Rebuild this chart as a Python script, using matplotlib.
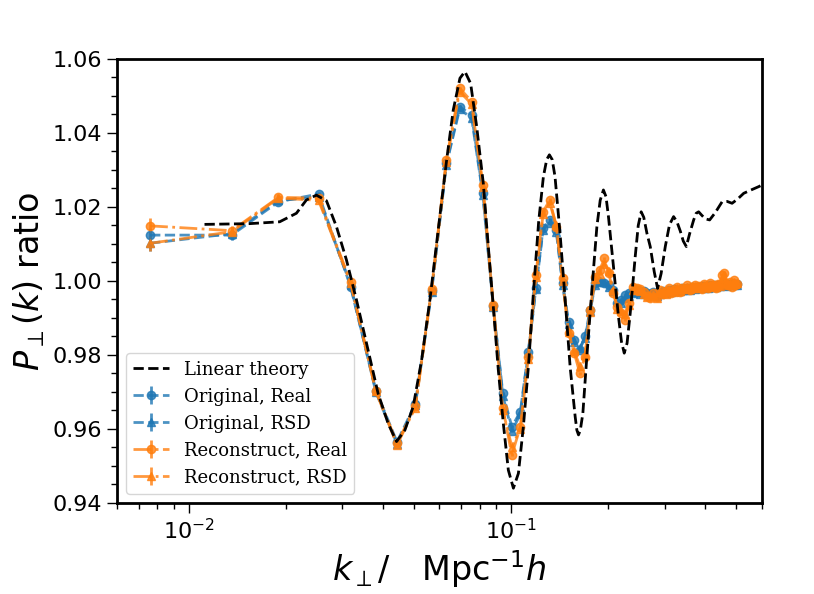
import matplotlib
matplotlib.use("Agg")
import matplotlib.pyplot as plt
from matplotlib.ticker import MultipleLocator

# ---- Linear theory curve ----
k_theory = [0.01121, 0.01547, 0.01917, 0.02160, 0.02320, 0.02492, 0.02677, 0.02875,
            0.03088, 0.03317, 0.03563, 0.03871, 0.04158, 0.04416, 0.04687, 0.04972,
            0.05281, 0.05604, 0.05945, 0.06315, 0.06620, 0.06944, 0.07196, 0.07494,
            0.07826, 0.08204, 0.08502, 0.08811, 0.09133, 0.09465, 0.09809, 0.1017,
            0.1054, 0.1092, 0.1132, 0.1173, 0.1218, 0.1260, 0.1290, 0.1315, 0.1342,
            0.1369, 0.1419, 0.1472, 0.1525, 0.1581, 0.1600, 0.1619, 0.1640, 0.1670,
            0.1718, 0.1781, 0.1846, 0.1890, 0.1934, 0.1970, 0.2005, 0.2078, 0.2154,
            0.2200, 0.2244, 0.2290, 0.2342, 0.2427, 0.2480, 0.2533, 0.2580, 0.2640,
            0.2702, 0.2780, 0.2847, 0.2920, 0.3008, 0.3100, 0.3192, 0.3270, 0.3348,
            0.3420, 0.3496, 0.3580, 0.3684, 0.3750, 0.3817, 0.3900, 0.4000, 0.4129,
            0.4300, 0.4512, 0.4680, 0.4846, 0.5050, 0.5266, 0.5550, 0.5861, 0.6019]
p_theory = [1.0153, 1.0155, 1.0160, 1.0183, 1.0219, 1.0232, 1.0217, 1.0147,
            1.0057, 0.9949, 0.9832, 0.9696, 0.9615, 0.9566, 0.9597, 0.9660,
            0.9786, 0.9949, 1.0138, 1.0327, 1.0462, 1.0548, 1.0566, 1.0534,
            1.0417, 1.0264, 1.0093, 0.9931, 0.9759, 0.9615, 0.9489, 0.9440,
            0.9480, 0.9606, 0.9768, 0.9967, 1.0160, 1.0282, 1.0328, 1.0341, 1.0328,
            1.0282, 1.0129, 0.9949, 0.9768, 0.9633, 0.9597, 0.9584, 0.9597, 0.9642,
            0.9795, 0.9976, 1.0147, 1.0218, 1.0246, 1.0228, 1.0174, 1.0039, 0.9903,
            0.9836, 0.9805, 0.9832, 0.9913, 1.0066, 1.0150, 1.0187, 1.0172, 1.0128,
            1.0093, 1.0025, 0.9980, 1.0020, 1.0093, 1.0152, 1.0174, 1.0160, 1.0135,
            1.0108, 1.0093, 1.0128, 1.0165, 1.0183, 1.0187, 1.0178, 1.0168, 1.0165,
            1.0185, 1.0214, 1.0215, 1.0210, 1.0222, 1.0237, 1.0246, 1.0255, 1.0260]

# ---- Measured k bins ----
k_data = [0.0076, 0.0136, 0.0190, 0.0253, 0.0318, 0.0381, 0.0443, 0.0505, 0.0567, 0.0630,
          0.0693, 0.0755, 0.0818, 0.0881, 0.0943, 0.1006, 0.1069, 0.1131, 0.1194, 0.1257,
          0.1319, 0.1382, 0.1445, 0.1508, 0.1571, 0.1634, 0.1696, 0.1759, 0.1822, 0.1885,
          0.1948, 0.2011, 0.2073, 0.2136, 0.2199, 0.2262, 0.2325, 0.2388, 0.2450, 0.2513,
          0.2576, 0.2639, 0.2702, 0.2765, 0.2827, 0.2890, 0.2953, 0.3016, 0.3079, 0.3142,
          0.3204, 0.3267, 0.3330, 0.3393, 0.3456, 0.3519, 0.3581, 0.3644, 0.3707, 0.3770,
          0.3833, 0.3896, 0.3958, 0.4021, 0.4084, 0.4147, 0.4210, 0.4273, 0.4335, 0.4398,
          0.4461, 0.4524, 0.4587, 0.4650, 0.4712, 0.4775, 0.4838, 0.4901, 0.4964, 0.5027]

orig_real = [1.0124, 1.0124, 1.0214, 1.0235, 0.9985, 0.9704, 0.9565, 0.9668, 0.9974, 1.0318,
             1.0471, 1.0449, 1.0237, 0.9932, 0.9696, 0.9606, 0.9647, 0.9809, 0.9980, 1.0142,
             1.0165, 1.0138, 0.9994, 0.9890, 0.9841, 0.9814, 0.9850, 0.9922, 0.9994, 0.9998,
             0.9994, 0.9989, 0.9976, 0.9940, 0.9949, 0.9962, 0.9967, 0.9971, 0.9975, 0.9970,
             0.9972, 0.9968, 0.9965, 0.9970, 0.9962, 0.9968, 0.9973, 0.9970, 0.9975, 0.9972,
             0.9978, 0.9974, 0.9976, 0.9980, 0.9977, 0.9982, 0.9979, 0.9983, 0.9980, 0.9985,
             0.9982, 0.9986, 0.9983, 0.9987, 0.9984, 0.9988, 0.9985, 0.9989, 0.9986, 0.9990,
             0.9987, 0.9989, 0.9991, 0.9988, 0.9992, 0.9989, 0.9993, 0.9990, 0.9992, 0.9991]
orig_rsd = [1.0102, 1.0128, 1.0218, 1.0226, 0.9990, 0.9700, 0.9560, 0.9664, 0.9970, 1.0314,
            1.0465, 1.0440, 1.0232, 0.9930, 0.9690, 0.9595, 0.9640, 0.9805, 0.9978, 1.0138,
            1.0158, 1.0132, 0.9990, 0.9885, 0.9835, 0.9820, 0.9845, 0.9918, 0.9990, 1.0000,
            0.9996, 0.9985, 0.9972, 0.9945, 0.9940, 0.9955, 0.9960, 0.9968, 0.9970, 0.9966,
            0.9969, 0.9964, 0.9962, 0.9967, 0.9960, 0.9965, 0.9970, 0.9968, 0.9972, 0.9970,
            0.9975, 0.9972, 0.9974, 0.9978, 0.9975, 0.9980, 0.9976, 0.9981, 0.9978, 0.9983,
            0.9980, 0.9984, 0.9981, 0.9985, 0.9982, 0.9987, 0.9983, 0.9988, 0.9985, 0.9988,
            0.9986, 0.9988, 0.9990, 0.9987, 0.9991, 0.9988, 0.9992, 0.9989, 0.9991, 0.9990]
rec_real = [1.0149, 1.0136, 1.0226, 1.0224, 0.9998, 0.9704, 0.9561, 0.9661, 0.9978, 1.0327,
            1.0521, 1.0485, 1.0259, 0.9935, 0.9656, 0.9530, 0.9606, 0.9795, 1.0016, 1.0187,
            1.0219, 1.0147, 1.0007, 0.9859, 0.9805, 0.9751, 0.9795, 0.9922, 1.0012, 1.0030,
            1.0061, 1.0021, 0.9967, 0.9931, 0.9913, 0.9895, 0.9940, 0.9985, 0.9980, 0.9978,
            0.9970, 0.9960, 0.9955, 0.9968, 0.9958, 0.9975, 0.9965, 0.9972, 0.9980, 0.9968,
            0.9975, 0.9985, 0.9970, 0.9982, 0.9978, 0.9988, 0.9975, 0.9984, 0.9990, 0.9980,
            0.9986, 0.9978, 0.9992, 0.9985, 0.9980, 0.9995, 0.9986, 0.9990, 0.9982, 0.9992,
            0.9988, 1.0015, 1.0022, 0.9992, 0.9988, 0.9996, 0.9985, 1.0002, 0.9990, 0.9992]
rec_rsd = [1.0102, 1.0133, 1.0224, 1.0218, 0.9995, 0.9702, 0.9557, 0.9658, 0.9975, 1.0322,
           1.0512, 1.0478, 1.0254, 0.9932, 0.9650, 0.9552, 0.9600, 0.9790, 1.0010, 1.0180,
           1.0210, 1.0150, 1.0000, 0.9862, 0.9810, 0.9770, 0.9800, 0.9915, 1.0005, 1.0020,
           1.0045, 1.0028, 0.9975, 0.9925, 0.9920, 0.9910, 0.9935, 0.9975, 0.9976, 0.9972,
           0.9966, 0.9958, 0.9960, 0.9962, 0.9955, 0.9970, 0.9968, 0.9966, 0.9976, 0.9972,
           0.9970, 0.9980, 0.9974, 0.9978, 0.9982, 0.9984, 0.9979, 0.9981, 0.9986, 0.9983,
           0.9982, 0.9984, 0.9988, 0.9990, 0.9983, 0.9990, 0.9988, 0.9986, 0.9985, 0.9990,
           0.9986, 1.0008, 1.0012, 0.9995, 0.9990, 0.9992, 0.9988, 0.9998, 0.9993, 0.9994]
err = [0.0020, 0.0012, 0.0008, 0.0006, 0.0005] + [0.0004] * 75

labels = ["Linear theory", "Original, Real", "Original, RSD",
          "Reconstruct, Real", "Reconstruct, RSD"]

blue = "#1f77b4"
orange = "#ff7f0e"

fig = plt.figure(figsize=(8.14, 5.94), dpi=100)
ax = fig.add_axes([0.1437, 0.1532, 0.7924, 0.7475])

ax.plot(k_theory, p_theory, "k--", lw=2, label=labels[0], zorder=5)
series = [(orig_real, blue, "o", "--", labels[1]),
          (orig_rsd, blue, "^", "--", labels[2]),
          (rec_real, orange, "o", "-.", labels[3]),
          (rec_rsd, orange, "^", "-.", labels[4])]
for vals, col, mk, ls, lab in series:
    ax.errorbar(k_data, vals, yerr=err, color=col, marker=mk, ls=ls, lw=2,
                ms=6, alpha=0.8, elinewidth=2, capsize=0, label=lab)

ax.set_xscale("log")
ax.set_xlim(0.006, 0.6)
ax.set_ylim(0.94, 1.06)
ax.yaxis.set_major_locator(MultipleLocator(0.02))
ax.yaxis.set_minor_locator(MultipleLocator(0.005))
ax.tick_params(which="major", labelsize=16, length=7, width=1)
ax.tick_params(which="minor", length=4, width=1)
for s in ax.spines.values():
    s.set_linewidth(2)

ax.set_ylabel(r"$P_\perp(k)$ ratio", fontsize=24)
ax.set_xlabel(r"$k_\perp/\ \ \ \mathrm{Mpc}^{-1}h$", fontsize=24)

ax.legend(loc="lower left", prop={"family": "DejaVu Serif", "size": 13})

fig.savefig("out.png", dpi=100)
